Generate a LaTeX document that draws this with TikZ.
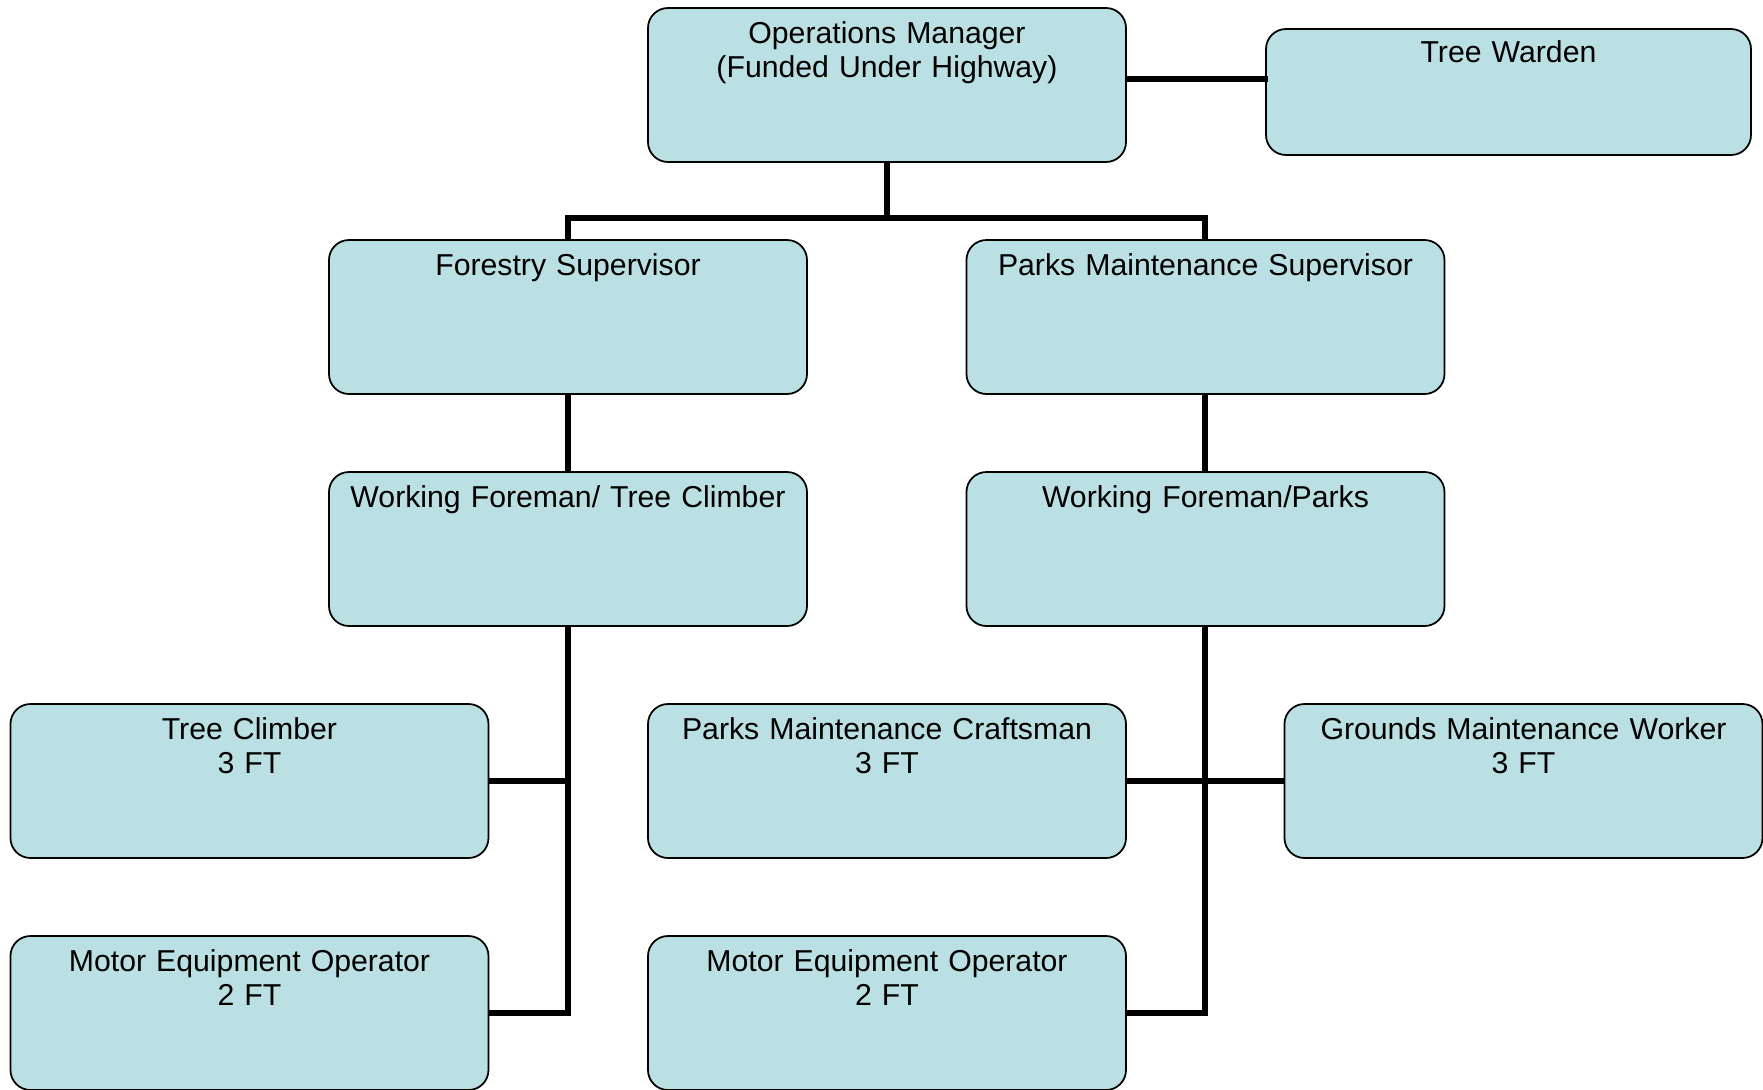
\documentclass[tikz,border=0pt]{standalone}
\usepackage{fontspec}
\setmainfont{Liberation Sans}
\usetikzlibrary{positioning}
\definecolor{jobfill}{RGB}{187,224,227}

\begin{document}
\begin{tikzpicture}[thick,font=\fontsize{17.2}{19.9}\selectfont]
\tikzstyle{job}=[draw,fill=jobfill,rounded corners=0.4cm,line width=1pt,inner xsep=0.13cm,inner ysep=0pt,text width=9.3cm,align=center,text height=0.7cm,text depth=2.38cm]
\tikzstyle{link}=[line width=0.12cm]

\useasboundingbox (-17.74,1.70) rectangle (17.52,-20.08);

\node[job]		(om)              {Operations Manager\\(Funded Under Highway)};
\node[job]		(tw)  [right of=om,node distance=12.43cm,yshift=-0.14cm,text width=9.44cm,text height=0.66cm,text depth=1.86cm] {Tree Warden};
\node[job]		(fs)  [below of=om,node distance=4.64cm,xshift=-6.38cm] {Forestry Supervisor};
\node[job]		(pms) [below of=om,node distance=4.64cm,xshift=6.37cm] {Parks Maintenance Supervisor};
\node[job]		(wf)  [below of=fs,node distance=4.64cm] {Working Foreman/ Tree Climber};
\node[job]		(wfp) [below of=pms,node distance=4.64cm] {Working Foreman/Parks};
\node[job]		(tc)  [below of=wf,node distance=4.64cm,xshift=-6.37cm] {Tree Climber\\3 FT};
\node[job]		(pmc) [below of=wf,node distance=4.64cm,xshift=6.38cm] {Parks Maintenance Craftsman\\3 FT};
\node[job]		(gmw) [below of=wfp,node distance=4.64cm,xshift=6.36cm] {Grounds Maintenance Worker\\3 FT};
\node[job]		(meo) [below of=tc,node distance=4.64cm] {Motor Equipment Operator\\2 FT};
\node[job]		(meop) [below of=pmc,node distance=4.64cm] {Motor Equipment Operator\\2 FT};

\draw[link] (om.south) -- ++(0,-1.1) coordinate (bus);
\draw[link] (fs.north) |- (bus) -| (pms.north);
\draw[link] ([yshift=1.2mm]om.east) -- ++(2.82,0);
\draw[link] (fs.south) -- (wf.north);
\draw[link] (pms.south) -- (wfp.north);
\draw[link] (wf.south) |- (meo.east);
\draw[link] (tc.east) -| (wf.south);
\draw[link] (wfp.south) |- (meop.east);
\draw[link] (pmc.east) -- (gmw.west);
    \end{tikzpicture}
\end{document}
